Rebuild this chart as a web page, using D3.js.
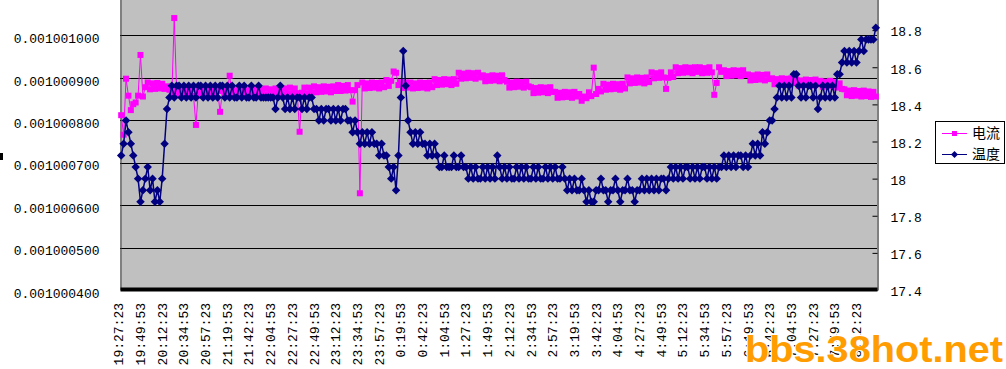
<!DOCTYPE html>
<html>
<head>
<meta charset="utf-8">
<script src="https://cdn.jsdelivr.net/npm/d3@7"></script>
<style>
body{margin:0;background:#fff;}
svg{display:block;}
</style>
</head>
<body>
<div class="Graph"></div>
<script>
// x tick labels, one every 9 samples (22.5 min)
const timeLabels = ["19:27:23","19:49:53","20:12:23","20:34:53","20:57:23","21:19:53","21:42:23","22:04:53","22:27:23","22:49:53","23:12:23","23:34:53","23:57:23","0:19:53","0:42:23","1:04:53","1:27:23","1:49:53","2:12:23","2:34:53","2:57:23","3:19:53","3:42:23","4:04:53","4:27:23","4:49:53","5:12:23","5:34:53","5:57:23","6:19:53","6:42:23","7:04:53","7:27:23","7:49:53","8:12:23"];
const labelStep = 9;

// 电流 (left axis)
const current = [
0.001000812,0.001000766,0.001000898,0.001000858,0.001000824,0.001000838,0.001000842,0.001000858,0.001000954,0.001000856,
0.001000878,0.001000889,0.001000873,0.001000887,0.001000874,0.001000888,0.001000875,0.001000886,0.001000874,0.001000880,
0.001000872,0.001000859,0.001001041,0.001000870,0.001000859,0.001000873,0.001000861,0.001000871,0.001000859,0.001000873,
0.001000858,0.001000789,0.001000869,0.001000858,0.001000871,0.001000859,0.001000869,0.001000857,0.001000870,0.001000859,
0.001000870,0.001000820,0.001000869,0.001000857,0.001000870,0.001000905,0.001000858,0.001000871,0.001000857,0.001000869,
0.001000873,0.001000859,0.001000871,0.001000860,0.001000873,0.001000860,0.001000872,0.001000859,0.001000873,0.001000861,
0.001000875,0.001000861,0.001000873,0.001000862,0.001000875,0.001000863,0.001000874,0.001000861,0.001000875,0.001000863,
0.001000877,0.001000863,0.001000875,0.001000864,0.001000773,0.001000865,0.001000877,0.001000863,0.001000877,0.001000866,
0.001000880,0.001000866,0.001000878,0.001000867,0.001000880,0.001000868,0.001000879,0.001000866,0.001000880,0.001000869,
0.001000883,0.001000869,0.001000881,0.001000870,0.001000883,0.001000871,0.001000844,0.001000871,0.001000883,0.001000628,
0.001000889,0.001000875,0.001000887,0.001000876,0.001000889,0.001000877,0.001000888,0.001000875,0.001000889,0.001000878,
0.001000895,0.001000881,0.001000893,0.001000915,0.001000912,0.001000883,0.001000890,0.001000876,0.001000889,0.001000877,
0.001000889,0.001000875,0.001000887,0.001000876,0.001000889,0.001000877,0.001000888,0.001000875,0.001000889,0.001000878,
0.001000897,0.001000883,0.001000895,0.001000884,0.001000897,0.001000885,0.001000896,0.001000883,0.001000897,0.001000886,
0.001000912,0.001000898,0.001000910,0.001000899,0.001000912,0.001000900,0.001000911,0.001000898,0.001000912,0.001000901,
0.001000906,0.001000892,0.001000904,0.001000893,0.001000906,0.001000894,0.001000905,0.001000892,0.001000906,0.001000895,
0.001000891,0.001000877,0.001000889,0.001000878,0.001000891,0.001000879,0.001000890,0.001000877,0.001000891,0.001000880,
0.001000878,0.001000864,0.001000876,0.001000865,0.001000878,0.001000866,0.001000877,0.001000864,0.001000878,0.001000867,
0.001000867,0.001000853,0.001000865,0.001000854,0.001000867,0.001000855,0.001000866,0.001000853,0.001000867,0.001000856,
0.001000862,0.001000846,0.001000856,0.001000852,0.001000866,0.001000857,0.001000924,0.001000862,0.001000874,0.001000868,
0.001000886,0.001000872,0.001000884,0.001000873,0.001000886,0.001000874,0.001000885,0.001000872,0.001000886,0.001000875,
0.001000901,0.001000887,0.001000899,0.001000888,0.001000901,0.001000889,0.001000900,0.001000887,0.001000901,0.001000890,
0.001000913,0.001000899,0.001000911,0.001000900,0.001000913,0.001000901,0.001000874,0.001000900,0.001000913,0.001000902,
0.001000925,0.001000911,0.001000923,0.001000912,0.001000925,0.001000913,0.001000924,0.001000911,0.001000925,0.001000914,
0.001000925,0.001000911,0.001000923,0.001000912,0.001000925,0.001000913,0.001000860,0.001000888,0.001000925,0.001000914,
0.001000918,0.001000904,0.001000916,0.001000905,0.001000918,0.001000906,0.001000917,0.001000904,0.001000918,0.001000907,
0.001000908,0.001000894,0.001000906,0.001000895,0.001000908,0.001000896,0.001000907,0.001000894,0.001000908,0.001000897,
0.001000899,0.001000885,0.001000897,0.001000886,0.001000899,0.001000887,0.001000898,0.001000885,0.001000899,0.001000888,
0.001000896,0.001000882,0.001000894,0.001000883,0.001000896,0.001000884,0.001000895,0.001000882,0.001000896,0.001000885,
0.001000893,0.001000879,0.001000891,0.001000880,0.001000893,0.001000881,0.001000890,0.001000877,0.001000887,0.001000874,
0.001000873,0.001000859,0.001000870,0.001000857,0.001000871,0.001000858,0.001000869,0.001000856,0.001000870,0.001000857,
0.001000868,0.001000855,0.001000867,0.001000856
];

// 温度 (right axis)
const temperature = [
18.125,18.1875,18.3125,18.25,18.1875,18.125,18.0625,18,17.875,17.9375,
18,18.0625,17.9375,18,17.875,17.9375,17.875,18,18.1875,18.375,
18.4375,18.5,18.4375,18.5,18.5,18.4375,18.5,18.4375,18.5,18.4375,
18.5,18.4375,18.5,18.5,18.4375,18.5,18.4375,18.5,18.4375,18.5,
18.4375,18.5,18.5,18.4375,18.5,18.4375,18.5,18.4375,18.4375,18.5,
18.4375,18.5,18.4375,18.4375,18.5,18.4375,18.4375,18.5,18.4375,18.4375,
18.4375,18.4375,18.4375,18.4375,18.375,18.4375,18.5,18.4375,18.375,18.4375,
18.375,18.4375,18.375,18.4375,18.4375,18.375,18.4375,18.375,18.4375,18.4375,
18.375,18.375,18.3125,18.375,18.3125,18.375,18.375,18.3125,18.375,18.3125,
18.375,18.3125,18.375,18.375,18.3125,18.3125,18.25,18.3125,18.25,18.1875,
18.25,18.1875,18.25,18.1875,18.25,18.1875,18.1875,18.125,18.1875,18.125,
18.125,18.0625,18,18.0625,17.9375,18.125,18.4375,18.6875,18.5,18.3125,
18.25,18.1875,18.25,18.1875,18.25,18.1875,18.1875,18.125,18.1875,18.125,
18.1875,18.125,18.0625,18.0625,18.125,18.0625,18.0625,18.0625,18.125,18.0625,
18.0625,18.125,18.0625,18.0625,18,18.0625,18,18.0625,18,18,
18.0625,18,18.0625,18,18.0625,18,18.125,18.0625,18,18.0625,
18,18.0625,18,18,18.0625,18,18.0625,18,18.0625,18,
18,18.0625,18,18.0625,18,18,18.0625,18,18.0625,18,
18.0625,18,18,18.0625,18,17.9375,18,17.9375,18,17.9375,
17.9375,18,17.9375,17.875,17.9375,17.875,17.875,17.9375,17.9375,18,
17.9375,17.9375,17.875,17.9375,17.9375,18,17.9375,17.875,17.9375,17.9375,
18,17.9375,17.9375,17.875,17.9375,17.9375,18,17.9375,18,17.9375,
18,17.9375,18,17.9375,18,18,17.9375,18,18.0625,18,
18.0625,18,18.0625,18,18.0625,18.0625,18,18.0625,18,18.0625,
18,18.0625,18.0625,18,18.0625,18,18.0625,18,18.0625,18.0625,
18.125,18.0625,18.125,18.0625,18.125,18.0625,18.125,18.125,18.0625,18.125,
18.0625,18.125,18.1875,18.125,18.1875,18.125,18.25,18.1875,18.25,18.3125,
18.3125,18.375,18.4375,18.5,18.4375,18.5,18.4375,18.5,18.4375,18.5625,
18.5625,18.5,18.4375,18.5,18.4375,18.5,18.5,18.4375,18.5,18.375,
18.4375,18.5,18.4375,18.5,18.4375,18.5,18.4375,18.5625,18.5625,18.625,
18.6875,18.625,18.6875,18.625,18.6875,18.625,18.6875,18.75,18.6875,18.75,
18.75,18.75,18.75,18.8125
];

const leftTicks = [0.0010004,0.0010005,0.0010006,0.0010007,0.0010008,0.0010009,0.001001];
const rightTicks = [17.4,17.6,17.8,18,18.2,18.4,18.6,18.8];
const seriesNames = ["电流","温度"];

const W = 1006, H = 369;
const L = 120, R = 877, T = -7, B = 290;
const mono = "'Liberation Mono','DejaVu Sans Mono',monospace";

const svg = d3.select(".Graph").append("svg")
    .attr("width", W).attr("height", H)
    .style("font-family", mono).style("font-size", "13px");

const x = d3.scaleBand().domain(d3.range(current.length)).range([L, R]);
const cx = i => x(i) + x.bandwidth() / 2;
const yL = d3.scaleLinear().domain([0.0010004, 0.0010011]).range([B, T]);
const yR = d3.scaleLinear().domain([17.4, 19.0]).range([B, T]);

// plot area
svg.append("rect").attr("x", L).attr("y", T).attr("width", R - L).attr("height", B - T)
    .attr("fill", "#c0c0c0");

// gridlines
svg.append("g").selectAll("line").data(leftTicks.slice(1)).join("line")
    .attr("x1", L).attr("x2", R)
    .attr("y1", d => Math.round(yL(d)) + 0.5).attr("y2", d => Math.round(yL(d)) + 0.5)
    .attr("stroke", "#000").attr("stroke-width", 1);

// left axis
const gl = svg.append("g").attr("transform", `translate(${L + 0.5},0)`)
    .call(d3.axisLeft(yL).tickValues(leftTicks).tickFormat(d3.format(".9f")).tickSize(0).tickPadding(21));
gl.select(".domain").attr("stroke", "#404040");
gl.selectAll("text").attr("dy", "0.55em").attr("fill", "#000").style("font-family", mono).style("font-size", "13px");

// right axis
const gr = svg.append("g").attr("transform", `translate(${R + 0.5},0)`)
    .call(d3.axisRight(yR).tickValues(rightTicks).tickFormat(d => String(+d.toFixed(1))).tickSizeInner(-5).tickSizeOuter(0).tickPadding(13));
gr.select(".domain").attr("stroke", "#000");
gr.selectAll(".tick line").attr("stroke", "#000");
gr.selectAll("text").attr("dy", "0.45em").attr("fill", "#000").style("font-family", mono).style("font-size", "13px");

// series: line first, then markers (温度 drawn last, on top)
const drawSeries = (vals, y, color, size, rot, lw) => {
    const line = d3.line().x((d, i) => cx(i)).y(d => y(d));
    svg.append("path").datum(vals).attr("d", line)
        .attr("fill", "none").attr("stroke", color).attr("stroke-width", lw);
    const sym = d3.symbol().type(d3.symbolSquare).size(size);
    svg.append("g").selectAll("path").data(vals).join("path")
        .attr("d", sym)
        .attr("transform", (d, i) => `translate(${cx(i)},${y(d)})` + (rot ? " rotate(45)" : ""))
        .attr("fill", color);
};
drawSeries(current, yL, "#ff00ff", 36, false, 1);
drawSeries(temperature, yR, "#000080", 36, true, 1.5);

// x axis
const tickIdx = timeLabels.map((t, k) => k * labelStep);
const gx = svg.append("g").attr("transform", `translate(0,${B - 1})`)
    .call(d3.axisBottom(x).tickValues(tickIdx).tickFormat(i => timeLabels[i / labelStep]).tickSize(0));
gx.select(".domain").attr("stroke", "#000").attr("stroke-width", 4);
gx.selectAll("text")
    .attr("transform", "rotate(-90)")
    .attr("text-anchor", "end")
    .attr("x", -14).attr("y", 0).attr("dy", "0.16em")
    .attr("fill", "#000").style("font-family", mono).style("font-size", "13px");

// clipped axis title fragment at far left
svg.append("rect").attr("x", 0).attr("y", 153).attr("width", 3).attr("height", 7).attr("fill", "#000");

// legend
const lg = svg.append("g").attr("transform", "translate(935,121)");
lg.append("rect").attr("x", 0.5).attr("y", 0.5).attr("width", 69).attr("height", 42)
    .attr("fill", "#fff").attr("stroke", "#000");
const legendRows = [
    {name: seriesNames[0], color: "#ff00ff", rot: false, y: 12},
    {name: seriesNames[1], color: "#000080", rot: true, y: 33}
];
legendRows.forEach(r => {
    lg.append("line").attr("x1", 7).attr("x2", 32).attr("y1", r.y + 0.5).attr("y2", r.y + 0.5)
        .attr("stroke", r.color);
    lg.append("path").attr("d", d3.symbol().type(d3.symbolSquare).size(25))
        .attr("transform", `translate(19.5,${r.y + 0.5})` + (r.rot ? " rotate(45)" : ""))
        .attr("fill", r.color);
    lg.append("text").attr("x", 37).attr("y", r.y + 5).text(r.name)
        .style("font-family", "'Noto Sans CJK SC',sans-serif").style("font-size", "14px");
});

// watermark
svg.append("text").attr("x", 745).attr("y", 362).text("bbs.38hot.net")
    .attr("textLength", 258).attr("lengthAdjust", "spacingAndGlyphs")
    .style("font-family", "'Liberation Sans',Arial,sans-serif").style("font-weight", "bold").style("font-size", "37px")
    .attr("fill", "#ff9c00").attr("stroke", "#fff").attr("stroke-width", 2).attr("paint-order", "stroke");
</script>
</body>
</html>
